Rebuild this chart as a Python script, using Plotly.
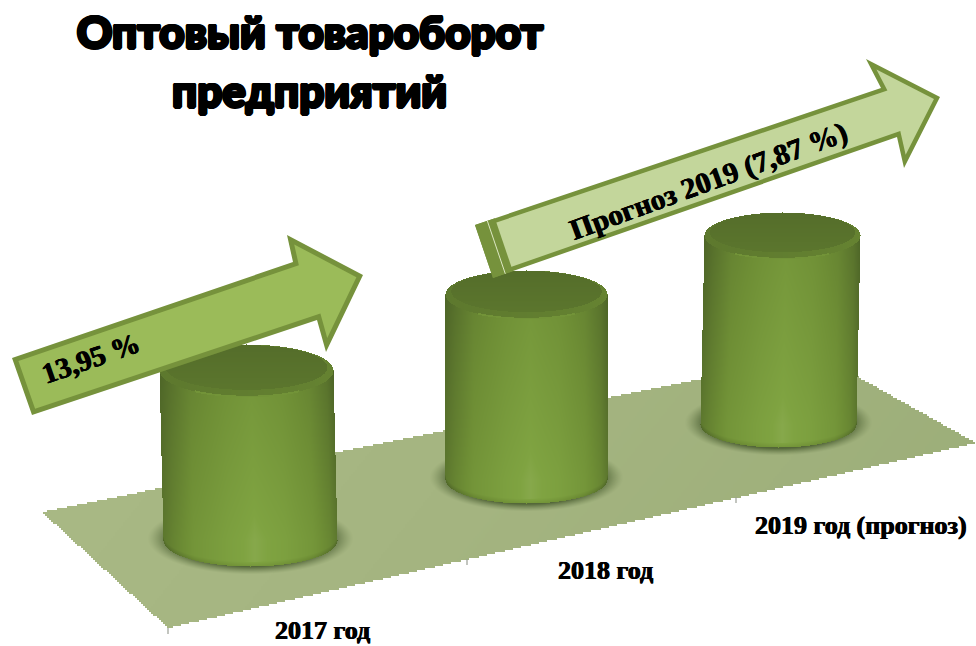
import numpy as np
import plotly.graph_objects as go

# ---- data -----------------------------------------------------------------
categories = ["2017 год", "2018 год", "2019 год (прогноз)"]
heights = [170, 185, 189]          # visible cylinder heights (chart units)
growth_labels = ["13,95 %", "Прогноз 2019 (7,87 %)"]
title_lines = ["Оптовый товароборот", "предприятий"]

# ---- scene geometry ---------------------------------------------------------
centers = [248, 526, 780]
radii_x = [87, 81, 78]
radii_y = [26, 24, 23]
floor_levels = [540, 479, 424]
leans = [4, 0, -4]
floor_corners = [(42, 512), (819, 355), (976, 443), (168, 628)]
floor_ticks = [(168, 628), (467, 559), (736, 497)]
label_pos = [(322, 630), (605, 570), (861, 525)]
arrow1 = [(12, 358), (293, 262), (287, 235), (363, 275), (326, 352), (317, 320), (32, 415)]
arrow2 = [(475, 225), (881, 88), (866, 59), (940, 97), (904, 168), (897, 137), (493, 278)]


def inset(poly, d):
    p = np.array(poly, float)
    n = len(p)
    area = 0.5 * sum(p[i, 0] * p[(i + 1) % n, 1] - p[(i + 1) % n, 0] * p[i, 1] for i in range(n))
    sgn = 1 if area > 0 else -1
    out = []
    for i in range(n):
        a, b, c = p[i - 1], p[i], p[(i + 1) % n]
        u = (b - a) / np.linalg.norm(b - a)
        v = (c - b) / np.linalg.norm(c - b)
        n1 = sgn * np.array([-u[1], u[0]])
        n2 = sgn * np.array([-v[1], v[0]])
        m = n1 + n2
        m = m / np.linalg.norm(m)
        out.append(b + m * d / max(0.25, np.dot(m, n1)))
    return np.array(out)


def closed(poly):
    p = np.array(poly, float)
    return list(p[:, 0]) + [p[0, 0]], list(p[:, 1]) + [p[0, 1]]


fig = go.Figure()

# floor
gx = np.arange(30, 976, 2.0)
gy = np.arange(345, 640, 2.0)
X, Y = np.meshgrid(gx, gy)
mask = np.ones_like(X, bool)
fc = floor_corners
for i in range(4):
    a, b = fc[i], fc[(i + 1) % 4]
    mask &= ((b[0] - a[0]) * (Y - a[1]) - (b[1] - a[1]) * (X - a[0])) >= 0
Zf = (X - 30) / 946 + 0.25 * (Y - 345) / 295
Zf = np.where(mask, Zf, np.nan)
fig.add_trace(go.Heatmap(x=gx, y=gy, z=Zf, showscale=False, hoverinfo="skip",
                         zmin=0, zmax=1.2,
                         colorscale=[[0, "#AABA86"], [0.5, "#A4B480"], [1, "#9BAD78"]]))

# soft shadows
shadow_scale = [[0, "rgba(70,90,45,0)"], [1, "rgba(70,90,45,0.85)"]]
for cx, rx, ry, lvl, lean in zip(centers, radii_x, radii_y, floor_levels, leans):
    bx = cx + lean / 2
    sx = np.arange(cx - rx - 40, cx + rx + 40, 1.0)
    sy = np.arange(lvl - 50, lvl + ry + 20, 1.0)
    SX, SY = np.meshgrid(sx, sy)
    r = np.sqrt(((SX - bx) / (rx + 16)) ** 2 + ((SY - lvl + 2) / (ry + 10)) ** 2)
    Zs = np.clip((1.0 - r) / 0.22, 0, 1) ** 1.3
    fig.add_trace(go.Heatmap(x=sx, y=sy, z=Zs, showscale=False, hoverinfo="skip",
                             zmin=0, zmax=1, colorscale=shadow_scale))

# cylinders
cyl_scale = [[0, "#3E5420"], [0.3, "#566F2B"], [0.6, "#6E8E35"], [0.85, "#7FA341"], [1, "#A4BC72"]]
for cx, rx, ry, lvl, h, lean in zip(centers, radii_x, radii_y, floor_levels, heights, leans):
    top = lvl - h
    x = np.arange(cx - rx - 6, cx + rx + 7, 1.0)
    y = np.arange(top - ry - 1, lvl + ry + 2, 1.0)
    XX, YY = np.meshgrid(x, y)
    v = np.clip((YY - top) / h, 0, 1)
    XL = XX - cx - lean * (v - 0.5)       # leaning axis of the cylinder
    t = XL / rx
    inside_x = np.abs(t) <= 1
    half = ry * np.sqrt(np.clip(1 - t ** 2, 0, 1))
    profile = np.interp(t, [-1, -0.88, -0.65, -0.25, 0.05, 0.4, 0.72, 0.92, 1],
                        [0.32, 0.44, 0.62, 0.75, 0.82, 0.75, 0.63, 0.46, 0.32])
    body = profile - 0.13 + 0.19 * v
    depth = (lvl + half) - YY
    body = body - 0.18 * np.clip((5 - depth) / 5, 0, 1)
    z = np.where(inside_x & (YY <= lvl + half), body, np.nan)
    # top cap
    ell = (t) ** 2 + ((YY - top) / ry) ** 2
    inner = (t / 0.93) ** 2 + ((YY - top + 3) / (ry * 0.86)) ** 2
    cap = np.where(inner <= 1, 0.33 + 0.05 * (YY - top) / ry, 0.44 + 0.05 * t)
    z = np.where(ell <= 1, cap, z)
    # soft highlight along the front of the rim
    band = np.abs(np.sqrt(np.maximum(ell, 0)) - 1)
    z = np.where((YY > top) & (band < 0.03) & (np.abs(t) < 0.6), 0.66, z)
    z = np.where(inside_x & ((YY >= top - half)), z, np.nan)
    fig.add_trace(go.Heatmap(x=x, y=y, z=z, showscale=False, hoverinfo="skip",
                             zmin=0, zmax=1, colorscale=cyl_scale))

# floor ticks
for tx, ty in floor_ticks:
    fig.add_trace(go.Scatter(x=[tx, tx], y=[ty, ty + 6], mode="lines", hoverinfo="skip",
                             line=dict(color="#9A9E94", width=1.2), showlegend=False))

# block arrows
border = "#76923C"
for poly, fill, d in [(arrow1, "#9BBB59", 5), (arrow2, "#C3D69B", 4.5)]:
    xs, ys = closed(poly)
    fig.add_trace(go.Scatter(x=xs, y=ys, mode="lines", fill="toself", fillcolor=border,
                             line=dict(width=0, color=border), hoverinfo="skip", showlegend=False))
    xs, ys = closed(inset(poly, d))
    fig.add_trace(go.Scatter(x=xs, y=ys, mode="lines", fill="toself", fillcolor=fill,
                             line=dict(width=0, color=fill), hoverinfo="skip", showlegend=False))

# tail band of the second arrow
a2 = np.array(arrow2, float)
u = (a2[1] - a2[0]) / np.linalg.norm(a2[1] - a2[0])
TL, BL = a2[0], a2[6]
xs, ys = closed([TL, TL + u * 21, BL + u * 21, BL])
fig.add_trace(go.Scatter(x=xs, y=ys, mode="lines", fill="toself", fillcolor=border,
                         line=dict(width=0, color=border), hoverinfo="skip", showlegend=False))
fig.add_trace(go.Scatter(x=[(TL + u * 13)[0], (BL + u * 13)[0]], y=[(TL + u * 13)[1], (BL + u * 13)[1]],
                         mode="lines", line=dict(width=1, color="#DDE8C4"), hoverinfo="skip", showlegend=False))

thick = "0.5px 0 0 #000, -0.5px 0 0 #000"
serif = dict(family="Liberation Serif", color="black", weight=700, shadow=thick)
heavy = dict(family="Lato", size=44, weight=900, color="black",
             shadow="1.5px 0 0 #000, -1.5px 0 0 #000, 0 1.5px 0 #000, 0 -1.5px 0 #000, "
                    "1px 1px 0 #000, -1px 1px 0 #000, 1px -1px 0 #000, -1px -1px 0 #000")
ann = [dict(x=p[0], y=p[1], text=c, font=dict(size=26, **serif)) for c, p in zip(categories, label_pos)]
ann.append(dict(x=91, y=358, text=growth_labels[0], textangle=-19, font=dict(size=29, **serif)))
ann.append(dict(x=708, y=181, text=growth_labels[1], textangle=-20, font=dict(size=29.5, **serif)))
ann.append(dict(x=309, y=90, text=title_lines[1], font=heavy))
for a in ann:
    a.update(xref="x", yref="y", showarrow=False, xanchor="center", yanchor="middle")

fig.update_layout(
    width=976, height=646,
    margin=dict(l=0, r=0, t=0, b=0),
    paper_bgcolor="white", plot_bgcolor="white",
    showlegend=False,
    title=dict(text=title_lines[0], x=0.3176, xanchor="center", y=1 - 33 / 646, yanchor="middle", font=heavy),
    xaxis=dict(range=[0, 976], visible=False, fixedrange=True),
    yaxis=dict(range=[646, 0], visible=False, fixedrange=True),
    annotations=ann,
)
fig.write_html("out.html", config=dict(displayModeBar=False),
               post_script="document.body.style.margin='0';document.body.style.overflow='hidden';")
